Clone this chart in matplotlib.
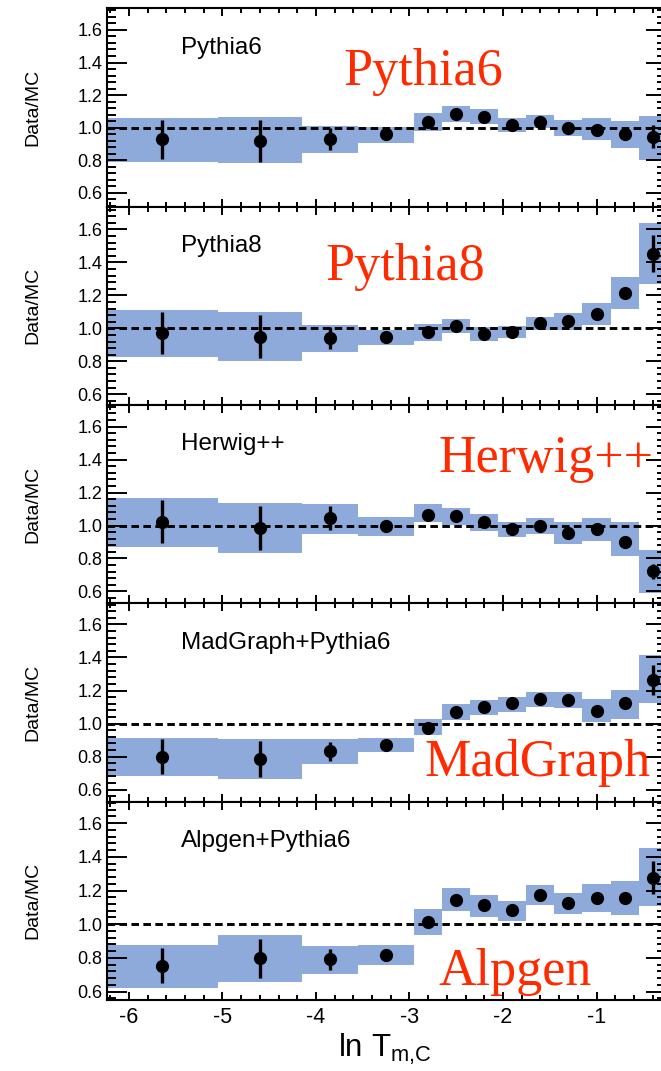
import matplotlib
matplotlib.use('Agg')
import matplotlib.pyplot as plt
import numpy as np
from matplotlib.ticker import MultipleLocator, FormatStrFormatter

plt.rcParams['font.family'] = ['Liberation Sans', 'DejaVu Sans']
plt.rcParams['axes.unicode_minus'] = False
plt.rcParams['mathtext.fontset'] = 'custom'
plt.rcParams['mathtext.rm'] = 'Liberation Sans'
plt.rcParams['mathtext.default'] = 'regular'

# ln T_{m,C} binning
edges = [-6.25, -5.05, -4.15, -3.55, -2.95, -2.65, -2.35, -2.05, -1.75, -1.45, -1.15, -0.85, -0.55, -0.25]
centers = [-5.65, -4.6, -3.85, -3.25, -2.8, -2.5, -2.2, -1.9, -1.6, -1.3, -1.0, -0.7, -0.4]

# Data/MC ratios, statistical errors and systematic band edges per generator
pythia6_ratio = [0.93, 0.92, 0.93, 0.96, 1.035, 1.085, 1.067, 1.014, 1.035, 1.0, 0.986, 0.959, 0.945]
pythia6_err = [0.12, 0.13, 0.068, 0.015, 0.015, 0.015, 0.015, 0.015, 0.015, 0.015, 0.015, 0.015, 0.07]
pythia6_lo = [0.79, 0.78, 0.845, 0.908, 0.98, 1.035, 1.02, 0.974, 0.995, 0.949, 0.925, 0.878, 0.80]
pythia6_hi = [1.057, 1.065, 1.01, 1.004, 1.087, 1.132, 1.112, 1.061, 1.077, 1.047, 1.057, 1.041, 1.071]

pythia8_ratio = [0.97, 0.949, 0.941, 0.945, 0.976, 1.016, 0.965, 0.98, 1.03, 1.047, 1.087, 1.215, 1.453]
pythia8_err = [0.127, 0.13, 0.068, 0.015, 0.015, 0.015, 0.015, 0.015, 0.015, 0.015, 0.015, 0.015, 0.11]
pythia8_lo = [0.829, 0.803, 0.856, 0.896, 0.921, 0.970, 0.921, 0.941, 0.99, 0.992, 1.018, 1.118, 1.266]
pythia8_hi = [1.112, 1.097, 1.022, 0.992, 1.026, 1.057, 1.006, 1.016, 1.071, 1.095, 1.152, 1.311, 1.64]

herwig_ratio = [1.024, 0.986, 1.045, 0.996, 1.065, 1.057, 1.02, 0.976, 0.996, 0.953, 0.976, 0.902, 0.721]
herwig_err = [0.13, 0.135, 0.072, 0.015, 0.015, 0.015, 0.015, 0.015, 0.015, 0.015, 0.015, 0.015, 0.048]
herwig_lo = [0.868, 0.833, 0.947, 0.939, 1.02, 1.006, 0.969, 0.929, 0.947, 0.888, 0.904, 0.817, 0.593]
herwig_hi = [1.169, 1.138, 1.132, 1.051, 1.128, 1.108, 1.067, 1.02, 1.047, 1.02, 1.047, 1.02, 0.852]

madgraph_ratio = [0.80, 0.786, 0.831, 0.868, 0.974, 1.067, 1.102, 1.122, 1.148, 1.142, 1.077, 1.122, 1.264]
madgraph_err = [0.105, 0.107, 0.06, 0.015, 0.015, 0.015, 0.015, 0.015, 0.015, 0.015, 0.015, 0.015, 0.09]
madgraph_lo = [0.681, 0.664, 0.756, 0.827, 0.929, 1.02, 1.051, 1.071, 1.102, 1.092, 1.01, 1.026, 1.122]
madgraph_hi = [0.915, 0.904, 0.904, 0.915, 1.026, 1.118, 1.142, 1.163, 1.193, 1.193, 1.148, 1.203, 1.413]

alpgen_ratio = [0.754, 0.797, 0.791, 0.818, 1.016, 1.143, 1.113, 1.082, 1.174, 1.125, 1.156, 1.154, 1.276]
alpgen_err = [0.105, 0.115, 0.06, 0.015, 0.015, 0.015, 0.015, 0.015, 0.015, 0.015, 0.015, 0.015, 0.097]
alpgen_lo = [0.621, 0.658, 0.703, 0.76, 0.939, 1.078, 1.041, 1.02, 1.113, 1.063, 1.074, 1.053, 1.109]
alpgen_hi = [0.879, 0.934, 0.873, 0.877, 1.092, 1.217, 1.176, 1.139, 1.231, 1.186, 1.236, 1.256, 1.45]

names = ['Pythia6', 'Pythia8', 'Herwig++', 'MadGraph+Pythia6', 'Alpgen+Pythia6']
tags = ['Pythia6', 'Pythia8', 'Herwig++', 'MadGraph', 'Alpgen']
ratios = [pythia6_ratio, pythia8_ratio, herwig_ratio, madgraph_ratio, alpgen_ratio]
errs = [pythia6_err, pythia8_err, herwig_err, madgraph_err, alpgen_err]
lows = [pythia6_lo, pythia8_lo, herwig_lo, madgraph_lo, alpgen_lo]
highs = [pythia6_hi, pythia8_hi, herwig_hi, madgraph_hi, alpgen_hi]

# layout (pixels)
W, H = 661, 1071
left_px, right_px = 106.5, 666
top_px, bot_px = 8.3, 1000
panel_h = (bot_px - top_px) / 5
ylims = [(0.515, 1.733), (0.535, 1.738), (0.528, 1.731), (0.527, 1.728), (0.55, 1.728)]
tag_pos = [(0.4227, 0.613), (0.3905, 0.630), (0.5925, 0.6636), (0.5675, 0.1294), (0.5925, 0.0756)]

band_color = '#8eaadb'
red = '#ff2a00'

fig = plt.figure(figsize=(W / 100, H / 100), dpi=100)

for i in range(5):
    y0 = 1 - (top_px + (i + 1) * panel_h) / H
    ax = fig.add_axes([left_px / W, y0, (right_px - left_px) / W, panel_h / H])

    lo = np.array(lows[i])
    hi = np.array(highs[i])
    ax.bar(edges[:-1], hi - lo, width=np.diff(edges), bottom=lo, align='edge',
           color=band_color, linewidth=0, zorder=1)
    ax.axhline(1.0, color='black', lw=2.1, ls=(0, (2.6, 1.5)), zorder=2)
    ax.errorbar(centers, ratios[i], yerr=errs[i], fmt='o', color='black', ms=8.5,
                elinewidth=2.4, capsize=0, zorder=3)

    ax.set_xlim(-6.24, -0.257)
    ax.set_ylim(*ylims[i])

    ax.xaxis.set_major_locator(MultipleLocator(1))
    ax.xaxis.set_minor_locator(MultipleLocator(0.2))
    ax.yaxis.set_major_locator(MultipleLocator(0.2))
    ax.yaxis.set_minor_locator(MultipleLocator(0.04))
    ax.yaxis.set_major_formatter(FormatStrFormatter('%.1f'))
    ax.tick_params(which='both', direction='in', top=True, right=True, width=1.4)
    ax.tick_params(axis='y', which='major', length=14.5, labelsize=13, pad=3)
    ax.tick_params(axis='y', which='minor', length=6.5)
    ax.tick_params(axis='x', which='major', length=5.5, labelsize=15.5, pad=5)
    ax.tick_params(axis='x', which='minor', length=3.5)
    if i < 4:
        ax.tick_params(axis='x', labelbottom=False)
    for s in ax.spines.values():
        s.set_linewidth(1.5)

    ax.text(-0.131, 0.5, 'Data/MC', transform=ax.transAxes, rotation=90,
            ha='center', va='center', fontsize=14)
    ax.text(0.1332, 0.7706, names[i], transform=ax.transAxes, fontsize=17.5,
            va='baseline')
    tx, ty = tag_pos[i]
    ax.text(tx, ty, tags[i], transform=ax.transAxes, fontsize=37.5,
            family='Liberation Serif', color=red, va='baseline')

fig.text(385 / W, 1 - 1057 / H, 'ln T$_{m{,}C}$', fontsize=22.5, ha='center', va='baseline')

fig.savefig('out.png', dpi=100)
